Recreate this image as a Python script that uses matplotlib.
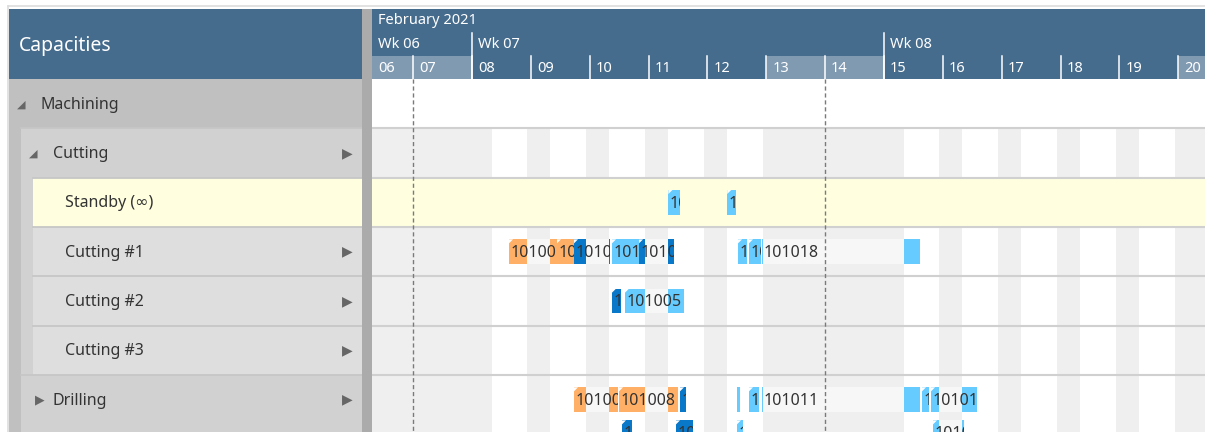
import datetime as dt
import matplotlib
matplotlib.use("Agg")
import matplotlib.pyplot as plt
from matplotlib.patches import Rectangle, Polygon
from matplotlib.lines import Line2D

plt.rcParams['font.family'] = ['Noto Sans', 'DejaVu Sans']

# ---------------- data ----------------
title = "Capacities"
month_label = "February 2021"
days = list(range(6, 21))                 # days of February 2021 shown
week_labels = ["Wk 06", "Wk 07", "Wk 08"]
week_starts = [1, 8, 15]
work_hours = (8, 22.5)                    # working shift per weekday
marker_days = [7, 14]                     # dashed vertical lines

row_labels = ["Machining", "Cutting", "Standby (\u221e)", "Cutting #1",
              "Cutting #2", "Cutting #3", "Drilling"]
row_levels = [0, 1, 2, 2, 2, 2, 1]
row_kinds = ["open", "open", "standby", "res", "res", "res", "closed"]

# tasks: (lane, start day, end day, type, label)
standby_tasks = [
    (0, 11.336, 11.534, "light", "101007"),
    (0, 12.336, 12.486, "light", "101010"),
]
cutting1_tasks = [
    (0, 8.629, 9.444, "orange", "101001"),
    (0, 9.444, 9.733, "orange", "101002"),
    (0, 9.733, 10.345, "dark", "101003"),
    (0, 10.379, 10.830, "light", "101004"),
    (0, 10.838, 11.432, "dark", "101006"),
    (0, 12.520, 12.672, "light", "101012"),
    (0, 12.706, 12.915, "light", "101015"),
    (0, 12.935, 15.612, "light", "101018"),
]
cutting2_tasks = [
    (0, 10.379, 10.532, "dark", "101003"),
    (0, 10.600, 11.601, "light", "101005"),
]
cutting3_tasks = []
drilling_tasks = [
    (0, 9.733, 10.481, "orange", "101001"),
    (0, 10.498, 11.499, "orange", "101008"),
    (0, 11.534, 11.636, "dark", "101009"),
    (0, 12.502, 12.553, "light", "101010"),
    (0, 12.706, 12.876, "light", "101012"),
    (0, 12.922, 15.612, "light", "101011"),
    (0, 15.646, 15.765, "light", "101013"),
    (0, 15.799, 16.580, "light", "101014"),
    (1, 10.548, 10.718, "dark", "101003"),
    (1, 11.466, 11.755, "dark", "101006"),
    (1, 12.502, 12.605, "light", "101012"),
    (1, 15.833, 16.359, "light", "101016"),
]
row_tasks = {2: standby_tasks, 3: cutting1_tasks, 4: cutting2_tasks,
             5: cutting3_tasks, 6: drilling_tasks}

# ---------------- style ----------------
W, H = 1205, 432
HDR = "#466C8D"
HDR_WEEKEND = "#809AB2"
STRIPE = "#EFEFEF"
YELLOW = "#FFFFE0"
PALE = "#F7F7F7"
TASK_COLORS = {"orange": "#FFB066", "light": "#66CCFF", "dark": "#0A78C8"}
TEXT = "#333333"
LEFT_BG = {0: "#C0C0C0", 1: "#D1D1D1", 2: "#DEDEDE"}

PX_DAY = 58.857
DAY0_PX = 354.29           # pixel position of Feb 6 00:00
TL_LEFT, TL_RIGHT = 372, 1205
X0 = 6 + (TL_LEFT - DAY0_PX) / PX_DAY
X1 = 6 + (TL_RIGHT - DAY0_PX) / PX_DAY
HDR_TOP, HDR_BOT = 9, 79
ROWH = 49.33
BODY_H = H - HDR_BOT
YMAX = BODY_H / ROWH
LANE_OFFS = [0.5, 1.17]
BAR_H = 0.5


def fx(px):
    return px / W


def fy(px):
    return 1 - px / H


def is_weekday(d):
    return dt.date(2021, 2, d).weekday() < 5


def work_intervals():
    out = []
    for d in days:
        if is_weekday(d):
            out.append((d + work_hours[0] / 24, d + work_hours[1] / 24))
    return out


WORK = work_intervals()

fig = plt.figure(figsize=(W / 100, H / 100), dpi=100)
fig.patch.set_facecolor("white")

# outer chrome lines
fig.add_artist(Line2D([fx(8), fx(W)], [fy(5.5), fy(5.5)], color="#DDDDDD", lw=1.2))
fig.add_artist(Line2D([fx(8), fx(8)], [fy(5.5), fy(H)], color="#DDDDDD", lw=1.2))

# ---------------- left header ----------------
ax_lh = fig.add_axes([fx(9), fy(HDR_BOT), fx(362 - 9), (HDR_BOT - HDR_TOP) / H])
ax_lh.set_xlim(9, 362)
ax_lh.set_ylim(HDR_BOT, HDR_TOP)
ax_lh.set_axis_off()
ax_lh.add_patch(Rectangle((9, HDR_TOP), 353, HDR_BOT - HDR_TOP, color=HDR, lw=0))
ax_lh.text(19, 45.5, title, color="white", fontsize=14, va="center", ha="left")

# ---------------- left panel ----------------
ax_l = fig.add_axes([0, 0, fx(362), BODY_H / H])
ax_l.set_xlim(0, 362)
ax_l.set_ylim(YMAX, 0)
ax_l.set_axis_off()
indent = {0: 9, 1: 21, 2: 33}
for i, (lab, lvl, kind) in enumerate(zip(row_labels, row_levels, row_kinds)):
    x_start = indent[lvl]
    y_end = YMAX if i == len(row_labels) - 1 else i + 1
    # parent strips
    for plvl in range(lvl):
        ax_l.add_patch(Rectangle((indent[plvl], i), indent[plvl + 1] - indent[plvl],
                                 y_end - i, color=LEFT_BG[plvl], lw=0))
    bg = YELLOW if kind == "standby" else LEFT_BG[lvl]
    ax_l.add_patch(Rectangle((x_start, i), 362 - x_start, y_end - i, color=bg, lw=0))
    if i > 0:
        ax_l.plot([x_start, 362], [i, i], color="#C6C6C6", lw=1.3)
    yc = i + 0.5
    tx = x_start + 32
    if kind in ("open", "closed"):
        glyph = "\u25E2" if kind == "open" else "\u25B6"
        gx = x_start + 12 if kind == "open" else x_start + 19
        ax_l.text(gx, yc + 0.01, glyph, fontsize=8 if kind == "open" else 9,
                  color="#666666", ha="center", va="center", family="DejaVu Sans")
    ax_l.text(tx, yc + 0.02, lab, fontsize=11.5, color=TEXT, ha="left", va="center")
    if kind in ("open", "res", "closed") and lvl > 0:
        ax_l.text(347, yc, "\u25B6", fontsize=10, color="#666666", ha="center",
                  va="center", family="DejaVu Sans")

# splitter
ax_sp = fig.add_axes([fx(362), 0, fx(10), fy(HDR_TOP)])
ax_sp.set_axis_off()
ax_sp.add_patch(Rectangle((0, 0), 1, 1, color="#ABABAB", lw=0, transform=ax_sp.transAxes))

# ---------------- timeline header ----------------
ax_h = fig.add_axes([fx(TL_LEFT), fy(HDR_BOT), fx(TL_RIGHT - TL_LEFT),
                     (HDR_BOT - HDR_TOP) / H])
ax_h.set_xlim(X0, X1)
ax_h.set_ylim(HDR_BOT - HDR_TOP, 0)
ax_h.set_axis_off()
ax_h.add_patch(Rectangle((X0, 0), X1 - X0, HDR_BOT - HDR_TOP, color=HDR, lw=0))
pad = 6 / PX_DAY
for d in days:
    if not is_weekday(d):
        ax_h.add_patch(Rectangle((d, 47), 1, 23, color=HDR_WEEKEND, lw=0))
    if d > X0:
        ax_h.plot([d, d], [47.5, 70], color="white", lw=1.1)
    ax_h.text(max(d, X0) + pad, 59, "%02d" % d, color="white", fontsize=10.5,
              ha="left", va="center", clip_on=True)
for ws, wl in zip(week_starts, week_labels):
    if ws > X0:
        ax_h.plot([ws, ws], [24, 70], color="white", lw=1.1)
    ax_h.text(max(ws, X0) + pad, 35.5, wl, color="white", fontsize=10.5,
              ha="left", va="center")
ax_h.text(X0 + pad, 11.5, month_label, color="white", fontsize=10.5,
          ha="left", va="center")

# ---------------- timeline body ----------------
ax_b = fig.add_axes([fx(TL_LEFT), 0, fx(TL_RIGHT - TL_LEFT), BODY_H / H])
ax_b.set_xlim(X0, X1)
ax_b.set_ylim(YMAX, 0)
ax_b.set_axis_off()

for i, kind in enumerate(row_kinds):
    y_end = YMAX if i == len(row_kinds) - 1 else i + 1
    if i == 0:
        ax_b.add_patch(Rectangle((X0, i), X1 - X0, y_end - i, color="white", lw=0))
    elif kind == "standby":
        ax_b.add_patch(Rectangle((X0, i), X1 - X0, y_end - i, color=YELLOW, lw=0))
    else:
        ax_b.add_patch(Rectangle((X0, i), X1 - X0, y_end - i, color=STRIPE, lw=0))
        for (ws, we) in WORK:
            ax_b.add_patch(Rectangle((ws, i), we - ws, y_end - i, color="white", lw=0))
for i in range(1, len(row_kinds)):
    ax_b.plot([X0, X1], [i, i], color="#D0D0D0", lw=1.5)

for md in marker_days:
    ax_b.plot([md, md], [0, YMAX], color="#7A7A7A", lw=1.0, ls=(0, (3, 2)))

nx = 4 / PX_DAY
ny = 4 / ROWH
for r, tasks in row_tasks.items():
    for lane, s, e, typ, lab in tasks:
        yc = r + LANE_OFFS[lane]
        y0 = yc - BAR_H / 2
        # pale base for the whole calendar span
        ax_b.add_patch(Rectangle((s, y0), e - s, BAR_H, color=PALE, lw=0))
        first = True
        for (ws, we) in WORK:
            a, b = max(s, ws), min(e, we)
            if b > a:
                ax_b.add_patch(Rectangle((a, y0), b - a, BAR_H,
                                         color=TASK_COLORS[typ], lw=0))
                if first and b - a > nx:
                    ax_b.add_patch(Polygon([(a, y0), (a + nx, y0), (a, y0 + ny)],
                                           closed=True, color="white", lw=0))
                first = False
        clip = Rectangle((s, y0), e - s, BAR_H, transform=ax_b.transData)
        t = ax_b.text(s + 1.5 / PX_DAY, yc + 0.03, lab, fontsize=11.5, color=TEXT,
                      ha="left", va="center", clip_on=True)
        t.set_clip_path(clip)

fig.savefig("out.png", dpi=100)
